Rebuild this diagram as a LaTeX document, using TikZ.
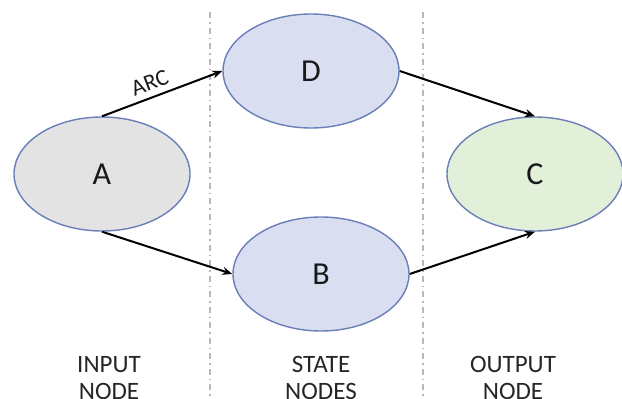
\documentclass[tikz,border=0pt]{standalone}
\usepackage{fontspec}
\setmainfont{Carlito}
\usetikzlibrary{shapes.geometric,arrows.meta}
\definecolor{edgeblue}{HTML}{6A7FB8}
\definecolor{grayfill}{HTML}{E3E3E3}
\definecolor{bluefill}{HTML}{D9DEF0}
\definecolor{greenfill}{HTML}{E2EFD9}
\definecolor{sepgray}{HTML}{B8B8B8}
\tikzset{
  state/.style={ellipse, draw=edgeblue, line width=1.4pt, minimum width=176pt, minimum height=114pt, inner sep=0pt, font=\fontsize{32}{32}\selectfont, text=black!90},
  conn/.style={-{Stealth[length=10pt,width=8pt]}, line width=2pt, black},
  sep/.style={sepgray, line width=1.2pt, dash pattern=on 6pt off 4pt on 1.5pt off 4pt},
  caption/.style={align=center, font=\fontsize{25}{27}\selectfont, text=black!85, inner sep=0pt, anchor=north},
}
\begin{document}
\begin{tikzpicture}[x=1pt,y=-1pt]
\useasboundingbox (0,0) rectangle (622,399);
\clip (0,0) rectangle (622,399);
\coordinate (s1t) at (210,12);
\coordinate (s1b) at (210,399);
\coordinate (s2t) at (423,12);
\coordinate (s2b) at (423,399);
\draw[sep] (s1t) -- (s1b);
\draw[sep] (s2t) -- (s2b);
\node[state, fill=grayfill] (A) at (102,174) {A};
\node[state, fill=bluefill] (D) at (311,71) {D};
\node[state, fill=bluefill] (B) at (321,274) {B};
\node[state, fill=greenfill] (C) at (535,174) {C};
\draw[conn] (A.north) -- node[pos=0.44, above=3pt, sloped, font=\fontsize{23}{23}\selectfont, text=black!90] {ARC} (D.west);
\draw[conn] (A.south) -- (B.west);
\draw[conn] (D.east) -- (C.north);
\draw[conn] (B.east) -- (C.south);
\node[caption] (in) at (109,356) {INPUT\\NODE};
\node[caption] (st) at (321,356) {STATE\\NODES};
\node[caption] (out) at (513,356) {OUTPUT\\NODE};
\end{tikzpicture}
\end{document}
